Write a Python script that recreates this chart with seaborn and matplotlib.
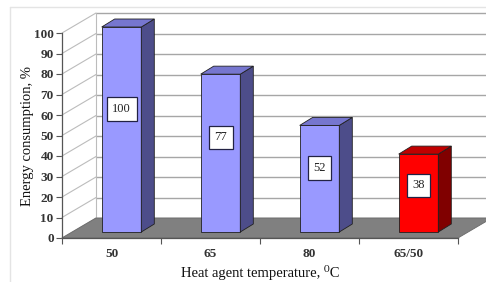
import numpy as np
import pandas as pd
import seaborn as sns
import matplotlib
matplotlib.use("Agg")
import matplotlib.pyplot as plt
from matplotlib.patches import Polygon
from matplotlib.lines import Line2D
from matplotlib.transforms import ScaledTranslation, IdentityTransform
from matplotlib.ticker import FixedLocator, NullFormatter

# ---- data ----
categories = ["50", "65", "80", "65/50"]
values = [100, 77, 52, 38]
front_colors = ["#9999ff", "#9999ff", "#9999ff", "#ff0000"]
side_colors = ["#4d4d8a", "#4d4d8a", "#4d4d8a", "#800000"]
top_colors = ["#7676cf", "#7676cf", "#7676cf", "#c00000"]
y_ticks = list(range(0, 101, 10))
x_label = "Heat agent temperature, \u2070C"
y_label = "Energy consumption, %"

DPI = 100
W, H = 486, 282
sns.set_theme(style="white")
plt.rcParams['font.family'] = ['Liberation Serif', 'DejaVu Serif']

fig = plt.figure(figsize=(W / DPI, H / DPI), dpi=DPI)
fig.patch.set_facecolor("white")
ax = fig.add_axes([62 / W, 44 / H, 396 / W, 205 / H])
ax.patch.set_visible(False)

df = pd.DataFrame({"temp": categories, "energy": values})
sns.barplot(data=df, x="temp", y="energy", hue="temp", palette=front_colors,
            width=0.4, saturation=1, legend=False, ax=ax,
            edgecolor="#202020", linewidth=0.6, zorder=6)
ax.set_xlim(-0.5, len(categories) - 0.5)
ax.set_ylim(0, 100)

# depth geometry (display pixels, y up): full depth vector and bar placement
DEPTH = np.array([34.0, 20.0])
BAR_SHIFT = np.array([10.0, 6.0])
BAR_DEPTH = np.array([13.0, 8.0])

fig.canvas.draw()
T = ax.transData
ident = IdentityTransform()

def px(x, y):
    return T.transform((x, y))

# back wall gridlines + left wall diagonals
for v in y_ticks:
    f = px(-0.5, v)
    b = f + DEPTH
    ax.add_line(Line2D([f[0], b[0]], [f[1], b[1]], color="#bcbcbc", lw=0.8,
                       transform=ident, clip_on=False, zorder=1))
    ax.add_line(Line2D([b[0], W + 5], [b[1], b[1]], color="#a6a6a6", lw=1.0,
                       transform=ident, clip_on=False, zorder=1))
bl = px(-0.5, 0) + DEPTH
tl = px(-0.5, 100) + DEPTH
ax.add_line(Line2D([bl[0], tl[0]], [bl[1], tl[1]], color="#bcbcbc", lw=0.8,
                   transform=ident, clip_on=False, zorder=1))

# floor
f0 = px(-0.5, 0)
f1 = px(len(categories) - 0.5, 0)
floor = Polygon([f0, f1, f1 + DEPTH, f0 + DEPTH], closed=True,
                facecolor="#808080", edgecolor="#6a6a6a", lw=0.6,
                transform=ident, clip_on=False, zorder=2)

bars = list(ax.patches)
ax.add_patch(floor)

# chart area frame (light)
fig.add_artist(Line2D([10, W + 5], [H - 7, H - 7], color="#e4e4e4", lw=1.0,
                      transform=ident))
fig.add_artist(Line2D([10, 10], [H - 7, -5], color="#e4e4e4", lw=1.0,
                      transform=ident))

# bars: shift, add side and top faces, labels
shift_t = T + ScaledTranslation(BAR_SHIFT[0] / DPI, BAR_SHIFT[1] / DPI,
                                fig.dpi_scale_trans)
for i, p in enumerate(bars):
    x0, w, h = p.get_x(), p.get_width(), p.get_height()
    p.set_transform(shift_t)
    p.set_clip_on(False)
    br_ = px(x0 + w, 0) + BAR_SHIFT
    tr_ = px(x0 + w, h) + BAR_SHIFT
    tl_ = px(x0, h) + BAR_SHIFT
    side = Polygon([br_, tr_, tr_ + BAR_DEPTH, br_ + BAR_DEPTH], closed=True,
                   facecolor=side_colors[i], edgecolor="#202020", lw=0.6,
                   transform=ident, clip_on=False, zorder=6)
    top = Polygon([tl_, tr_, tr_ + BAR_DEPTH, tl_ + BAR_DEPTH], closed=True,
                  facecolor=top_colors[i], edgecolor="#202020", lw=0.6,
                  transform=ident, clip_on=False, zorder=6)
    ax.add_patch(side)
    ax.add_patch(top)
    ax.text(x0 + w / 2, h * 0.6, f"{values[i]:g}", transform=shift_t,
            ha="center", va="center", fontsize=9, color="#222222", zorder=8,
            bbox=dict(boxstyle="square,pad=0.45", fc="white", ec="#222244", lw=0.9))

# axes styling
for s in ["top", "right"]:
    ax.spines[s].set_visible(False)
for s in ["left", "bottom"]:
    ax.spines[s].set_color("#555555")
    ax.spines[s].set_linewidth(0.9)
    ax.spines[s].set_zorder(3)

ax.set_yticks(y_ticks)
ax.set_yticklabels([str(t) for t in y_ticks], fontsize=9.5, fontweight="bold",
                   color="#333333")
ax.set_xticks(np.arange(len(categories)))
ax.set_xticklabels(categories, fontsize=9.5, fontweight="bold", color="#333333")
ax.xaxis.set_minor_locator(FixedLocator(np.arange(-0.5, len(categories), 1.0)))
ax.xaxis.set_minor_formatter(NullFormatter())
ax.tick_params(axis="y", which="major", direction="out", length=4, width=0.8,
               color="#555555", pad=2, left=True)
ax.tick_params(axis="x", which="minor", direction="out", length=4, width=0.8,
               color="#555555", bottom=True)
ax.tick_params(axis="x", which="major", length=0, pad=7, bottom=True)

ax.set_xlabel(x_label, fontsize=10.5, color="#111111", labelpad=4)
ax.set_ylabel(y_label, fontsize=10.5, color="#111111", labelpad=0)

fig.savefig("out.png", dpi=DPI)
